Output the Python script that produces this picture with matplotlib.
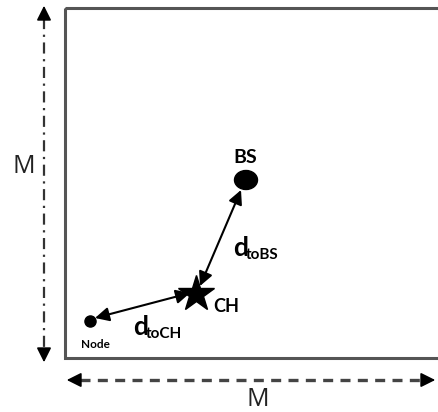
import matplotlib
matplotlib.use('agg')
import matplotlib.pyplot as plt
from matplotlib.patches import Ellipse, Rectangle

# positions in picture pixels (x right, y down)
names = ['Node', 'CH', 'BS']
xs = [90, 196, 246]
ys = [321, 294, 180]
side_label = 'M'
sub_ch = 'toCH'
sub_bs = 'toBS'

plt.rcParams['font.family'] = ['Open Sans', 'DejaVu Sans']
lab = ['Lato', 'DejaVu Sans']

fig = plt.figure(figsize=(4.38, 4.12), dpi=100)
ax = fig.add_axes([0, 0, 1, 1])
ax.set_xlim(0, 438)
ax.set_ylim(412, 0)
ax.axis('off')

# field box (right edge runs off the picture)
ax.add_patch(Rectangle((65, 8), 380, 350, fill=False, ec='#555555', lw=2.2))

# vertical M arrow, dash-dot
ax.plot([44, 44], [18, 350], color='#333333', lw=1.6, ls=(0, (5, 2.5, 1, 2.5)))
ax.annotate('', xy=(44, 3), xytext=(44, 20),
            arrowprops=dict(arrowstyle='-|>', color='black', lw=1.2, mutation_scale=22))
ax.annotate('', xy=(44, 365), xytext=(44, 348),
            arrowprops=dict(arrowstyle='-|>', color='black', lw=1.2, mutation_scale=22))
ax.text(24, 166, side_label, fontsize=18, ha='center', va='center', color='#222222')

# horizontal M arrow, dashed
ax.plot([80, 422], [380, 380], color='#444444', lw=2.4, ls=(0, (3, 2.2)))
ax.annotate('', xy=(64, 380), xytext=(82, 380),
            arrowprops=dict(arrowstyle='-|>', color='black', lw=1.2, mutation_scale=22))
ax.annotate('', xy=(438, 380), xytext=(420, 380),
            arrowprops=dict(arrowstyle='-|>', color='black', lw=1.2, mutation_scale=22))
ax.text(258, 399, side_label, fontsize=18, ha='center', va='center', color='#222222')

# nodes
ax.plot(xs[0], ys[0], 'o', color='black', ms=8)
ax.plot(xs[1], ys[1], '*', color='black', ms=27)
ax.add_patch(Ellipse((xs[2], ys[2]), 23, 19, color='black'))

ax.text(xs[0] + 5, ys[0] + 23, names[0], family=lab, fontsize=8.5, fontweight='bold', ha='center', va='center')
ax.text(xs[1] + 17, ys[1] + 13, names[1], family=lab, fontsize=13, fontweight='bold', ha='left', va='center')
ax.text(xs[2] - 1, ys[2] - 23, names[2], family=lab, fontsize=14, fontweight='bold', ha='center', va='center')

# distance arrows
ax.annotate('', xy=(xs[0] + 5, ys[0] - 3), xytext=(xs[1] - 6, ys[1] - 1),
            arrowprops=dict(arrowstyle='<|-|>', color='black', lw=1.5, mutation_scale=21,
                            shrinkA=0, shrinkB=0))
ax.annotate('', xy=(xs[1] + 4, ys[1] - 8), xytext=(xs[2] - 5, ys[2] + 10),
            arrowprops=dict(arrowstyle='<|-|>', color='black', lw=1.5, mutation_scale=21,
                            shrinkA=0, shrinkB=0))

# distance labels
ax.text(133, 335, 'd', family=lab, fontsize=19, fontweight='bold', ha='left', va='baseline')
ax.text(146, 338, sub_ch, family=lab, fontsize=11, fontweight='bold', ha='left', va='baseline')
ax.text(233, 256, 'd', family=lab, fontsize=19, fontweight='bold', ha='left', va='baseline')
ax.text(246, 259, sub_bs, family=lab, fontsize=11, fontweight='bold', ha='left', va='baseline')

fig.savefig('out.png', dpi=100)
